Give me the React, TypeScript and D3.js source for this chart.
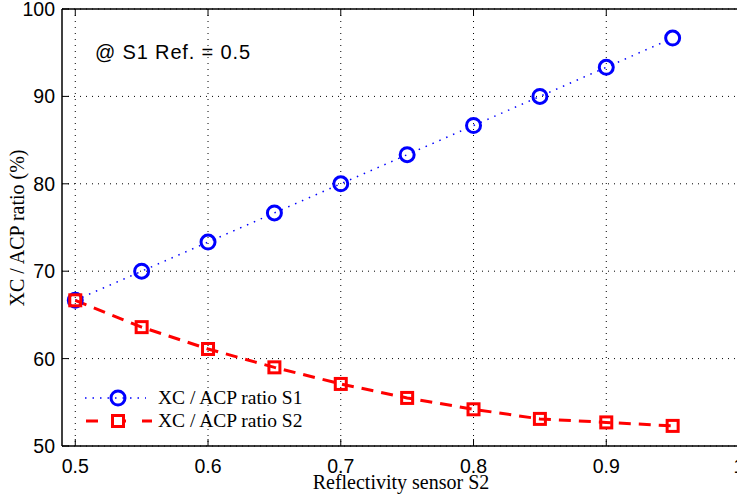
import React from "react";
import * as d3 from "d3";

const xValues = [0.5, 0.55, 0.6, 0.65, 0.7, 0.75, 0.8, 0.85, 0.9, 0.95];
const s1Values = [66.67, 70.0, 73.33, 76.67, 80.0, 83.33, 86.67, 90.0, 93.33, 96.67];
const s2Values = [66.67, 63.6, 61.1, 59.0, 57.1, 55.5, 54.2, 53.1, 52.7, 52.3];
const xTicks = [0.5, 0.6, 0.7, 0.8, 0.9, 1];
const yTicks = [50, 60, 70, 80, 90, 100];
const seriesNames = ["XC / ACP ratio S1", "XC / ACP ratio S2"];

const W = 737;
const H = 498;
const left = 62;
const top = 9;
const bottom = 446;

export default function App() {
  const x = d3.scaleLinear().domain([0.49, 1.0]).range([left, left + 0.51 * 1327.5]);
  const y = d3.scaleLinear().domain([50, 100]).range([bottom, top]);
  const right = x(1.0) + 14;
  const line = d3
    .line<number>()
    .x((_, i) => x(xValues[i]))
    .y((d) => y(d));
  const sans = "Liberation Sans, Arial, Helvetica, sans-serif";
  const serif = "Liberation Serif, Times New Roman, serif";
  const grid = "1 5";
  return (
    <svg
      width={W}
      height={H}
      style={{ position: "absolute", left: 0, top: 0, background: "#fff" }}
    >
      <rect x={0} y={0} width={W} height={H} fill="#fff" />
      {/* grid */}
      {xTicks.map((t) => (
        <line key={"gx" + t} x1={x(t)} x2={x(t)} y1={top} y2={bottom} stroke="#000" strokeWidth={1} strokeDasharray={grid} />
      ))}
      {yTicks.map((t) => (
        <line key={"gy" + t} x1={left} x2={right} y1={y(t)} y2={y(t)} stroke="#000" strokeWidth={1} strokeDasharray={grid} />
      ))}
      {/* ticks */}
      {xTicks.map((t) => (
        <g key={"tx" + t}>
          <line x1={x(t)} x2={x(t)} y1={bottom} y2={bottom - 7} stroke="#000" />
          <line x1={x(t)} x2={x(t)} y1={top} y2={top + 7} stroke="#000" />
          <text x={x(t)} y={bottom + 27} textAnchor="middle" fontFamily={sans} fontSize={19.5}>
            {t === 1 ? "1" : t.toFixed(1)}
          </text>
        </g>
      ))}
      {yTicks.map((t) => (
        <g key={"ty" + t}>
          <line x1={left} x2={left + 7} y1={y(t)} y2={y(t)} stroke="#000" />
          <text x={left - 7} y={y(t) + 7} textAnchor="end" fontFamily={sans} fontSize={19.5}>
            {t}
          </text>
        </g>
      ))}
      {/* axes box */}
      <line x1={left} x2={left} y1={top} y2={bottom} stroke="#000" strokeWidth={1.5} />
      <line x1={left} x2={right} y1={bottom} y2={bottom} stroke="#000" strokeWidth={1.5} />
      <line x1={left} x2={right} y1={top} y2={top} stroke="#000" strokeWidth={1.5} />

      {/* series S1 */}
      <path d={line(s1Values) || ""} fill="none" stroke="#0000ff" strokeWidth={1.5} strokeDasharray="1.5 6" />
      {/* series S2 */}
      <path d={line(s2Values) || ""} fill="none" stroke="#ff0000" strokeWidth={3} strokeDasharray="12 8" />
      {s1Values.map((v, i) => (
        <circle key={"c" + i} cx={x(xValues[i])} cy={y(v)} r={7} fill="none" stroke="#0000ff" strokeWidth={3} />
      ))}
      {s2Values.map((v, i) => (
        <rect key={"s" + i} x={x(xValues[i]) - 5.5} y={y(v) - 5.5} width={11} height={11} fill="none" stroke="#ff0000" strokeWidth={3} />
      ))}

      {/* annotation */}
      <text x={95} y={59} fontFamily={sans} fontSize={20} textLength={155} lengthAdjust="spacing">
        @ S1 Ref. = 0.5
      </text>

      {/* legend */}
      <g>
        <line x1={85} x2={146} y1={398} y2={398} stroke="#0000ff" strokeWidth={1.5} strokeDasharray="1.5 6" />
        <circle cx={118} cy={398} r={7} fill="none" stroke="#0000ff" strokeWidth={3} />
        <text x={158} y={404} fontFamily={serif} fontSize={19.5}>
          {seriesNames[0]}
        </text>
        <line x1={86} x2={152} y1={421} y2={421} stroke="#ff0000" strokeWidth={3} strokeDasharray="12 16" />
        <rect x={112.5} y={415.5} width={11} height={11} fill="#fff" stroke="#ff0000" strokeWidth={3} />
        <text x={158} y={427} fontFamily={serif} fontSize={19.5}>
          {seriesNames[1]}
        </text>
      </g>

      {/* axis labels */}
      <text x={401} y={489} textAnchor="middle" fontFamily={serif} fontSize={20}>
        Reflectivity sensor S2
      </text>
      <text
        transform={`translate(24, 228) rotate(-90)`}
        textAnchor="middle"
        fontFamily={serif}
        fontSize={20}
      >
        XC / ACP ratio (%)
      </text>
    </svg>
  );
}
